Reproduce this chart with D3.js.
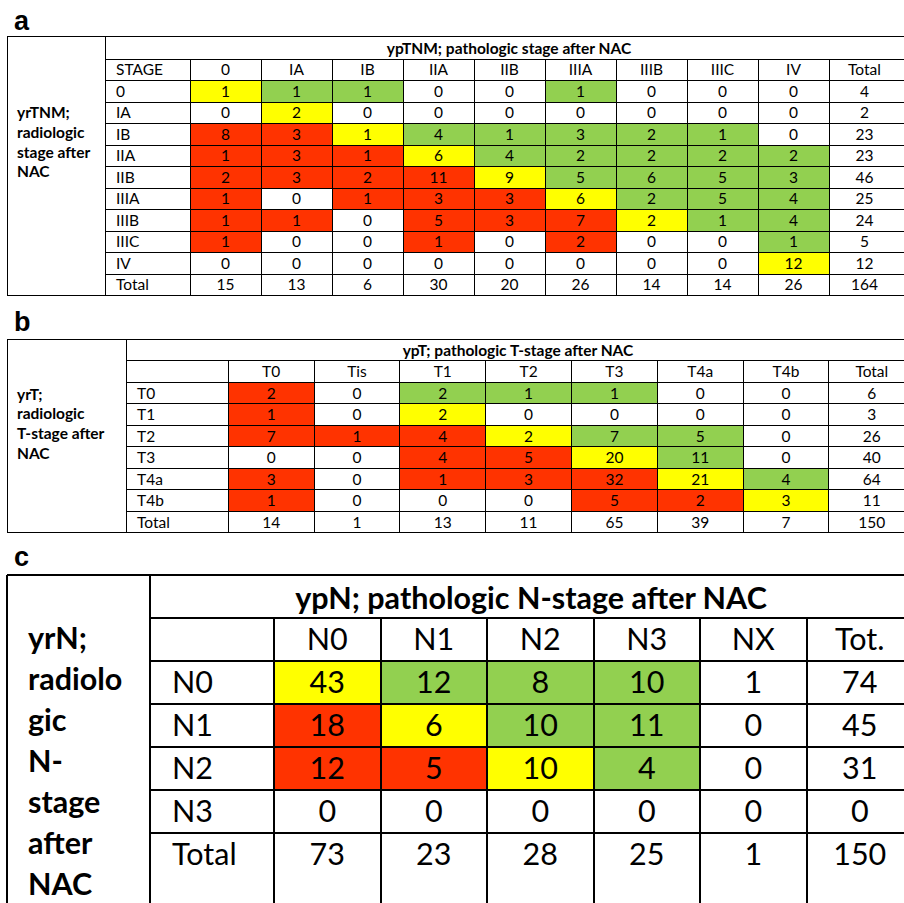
<!DOCTYPE html>
<html>
<head>
<meta charset="utf-8">
<script src="https://cdn.jsdelivr.net/npm/d3@7"></script>
<style>
  body { margin: 0; background: #fff; }
  svg text { font-family: Lato, "Open Sans", sans-serif; fill: #000; }
  svg text.panel { font-family: "Liberation Sans", Arial, sans-serif; font-weight: bold; }
  svg text.bold { font-weight: bold; }
</style>
</head>
<body>
<svg id="chart" width="904" height="903"></svg>
<script>
// codes: c = concordant (yellow), u = understaged (green), o = overstaged (red), . = none

// ---- table a: ypTNM vs yrTNM
var titleA = "ypTNM; pathologic stage after NAC";
var sideA = ["yrTNM;", "radiologic", "stage after", "NAC"];
var cornerA = "STAGE";
var colsA = ["0", "IA", "IB", "IIA", "IIB", "IIIA", "IIIB", "IIIC", "IV", "Total"];
var rowsA = ["0", "IA", "IB", "IIA", "IIB", "IIIA", "IIIB", "IIIC", "IV", "Total"];
var valuesA = [
  [1, 1, 1, 0, 0, 1, 0, 0, 0, 4],
  [0, 2, 0, 0, 0, 0, 0, 0, 0, 2],
  [8, 3, 1, 4, 1, 3, 2, 1, 0, 23],
  [1, 3, 1, 6, 4, 2, 2, 2, 2, 23],
  [2, 3, 2, 11, 9, 5, 6, 5, 3, 46],
  [1, 0, 1, 3, 3, 6, 2, 5, 4, 25],
  [1, 1, 0, 5, 3, 7, 2, 1, 4, 24],
  [1, 0, 0, 1, 0, 2, 0, 0, 1, 5],
  [0, 0, 0, 0, 0, 0, 0, 0, 12, 12],
  [15, 13, 6, 30, 20, 26, 14, 14, 26, 164]
];
var codesA = [
  "cuu..u...",
  ".c.......",
  "oocuuuuu.",
  "ooocuuuuu",
  "oooocuuuu",
  "o.ooocuuu",
  "oo.ooocuu",
  "o..o.o..u",
  "........c",
  "........."
];

// ---- table b: ypT vs yrT
var titleB = "ypT; pathologic T-stage after NAC";
var sideB = ["yrT;", "radiologic", "T-stage after", "NAC"];
var cornerB = "";
var colsB = ["T0", "Tis", "T1", "T2", "T3", "T4a", "T4b", "Total"];
var rowsB = ["T0", "T1", "T2", "T3", "T4a", "T4b", "Total"];
var valuesB = [
  [2, 0, 2, 1, 1, 0, 0, 6],
  [1, 0, 2, 0, 0, 0, 0, 3],
  [7, 1, 4, 2, 7, 5, 0, 26],
  [0, 0, 4, 5, 20, 11, 0, 40],
  [3, 0, 1, 3, 32, 21, 4, 64],
  [1, 0, 0, 0, 5, 2, 3, 11],
  [14, 1, 13, 11, 65, 39, 7, 150]
];
var codesB = [
  "o.uuu..",
  "o.c....",
  "ooocuu.",
  "..oocu.",
  "o.ooocu",
  "o...ooc",
  "......."
];

// ---- table c: ypN vs yrN
var titleC = "ypN; pathologic N-stage after NAC";
var sideC = ["yrN;", "radiolo", "gic", "N-", "stage", "after", "NAC"];
var cornerC = "";
var colsC = ["N0", "N1", "N2", "N3", "NX", "Tot."];
var rowsC = ["N0", "N1", "N2", "N3", "Total"];
var valuesC = [
  [43, 12, 8, 10, 1, 74],
  [18, 6, 10, 11, 0, 45],
  [12, 5, 10, 4, 0, 31],
  [0, 0, 0, 0, 0, 0],
  [73, 23, 28, 25, 1, 150]
];
var codesC = [
  "cuuu.",
  "ocuu.",
  "oocu.",
  ".....",
  "....."
];

var fillFor = {c: "#ffff00", u: "#92d050", o: "#ff3300"};
var rightEdge = 912;

var svg = d3.select("#chart");

function drawTable(t) {
  var g = svg.append("g");
  var n = t.rows.length + 1;
  var headTop = t.top + t.titleH;

  var yScale = d3.scaleBand()
    .domain(d3.range(n))
    .range([headTop, headTop + n * t.rowH]);
  var xScale = d3.scaleBand()
    .domain(t.cols)
    .range([t.dataX, t.dataX + t.cols.length * t.colW]);
  var bottom = t.open ? 915 : yScale.range()[1];

  var cells = [];
  t.values.forEach(function(row, i) {
    row.forEach(function(v, j) {
      cells.push({row: i, col: t.cols[j], value: v, code: (t.codes[i] || "")[j] || "."});
    });
  });

  // coloured cells
  g.selectAll("rect.cell")
    .data(cells.filter(d => fillFor[d.code]))
    .enter().append("rect")
    .attr("class", "cell")
    .attr("x", d => xScale(d.col))
    .attr("y", d => yScale(d.row + 1))
    .attr("width", xScale.bandwidth())
    .attr("height", yScale.bandwidth())
    .attr("fill", d => fillFor[d.code]);

  // grid
  var hl = [];
  hl.push([t.left, t.top]);
  d3.range(n).forEach(i => hl.push([t.sideEnd, yScale(i)]));
  if (!t.open) hl.push([t.left, bottom]);

  g.selectAll("line.h")
    .data(hl).enter().append("line")
    .attr("x1", d => d[0]).attr("x2", rightEdge)
    .attr("y1", d => d[1]).attr("y2", d => d[1]);

  var vl = [[t.left, t.top], [t.sideEnd, t.top], [t.dataX, headTop]];
  t.cols.slice(1).forEach(c => vl.push([xScale(c), headTop]));

  g.selectAll("line.v")
    .data(vl).enter().append("line")
    .attr("x1", d => d[0]).attr("x2", d => d[0])
    .attr("y1", d => d[1]).attr("y2", bottom);

  g.selectAll("line")
    .attr("stroke", "#000")
    .attr("stroke-width", t.stroke)
    .attr("shape-rendering", "crispEdges");

  // numbers
  g.selectAll("text.num")
    .data(cells).enter().append("text")
    .attr("class", "num")
    .attr("x", d => xScale(d.col) + xScale.bandwidth() / 2)
    .attr("y", d => yScale(d.row + 1) + yScale.bandwidth() / 2)
    .attr("dy", "0.36em")
    .attr("text-anchor", "middle")
    .style("font-size", t.fs + "px")
    .text(d => d.value);

  // column headers
  g.selectAll("text.colh")
    .data(t.cols).enter().append("text")
    .attr("x", d => xScale(d) + xScale.bandwidth() / 2)
    .attr("y", yScale(0) + yScale.bandwidth() / 2)
    .attr("dy", "0.36em")
    .attr("text-anchor", "middle")
    .style("font-size", t.fs + "px")
    .text(d => d);

  // row labels (first one is the corner)
  g.selectAll("text.rowh")
    .data([t.corner].concat(t.rows)).enter().append("text")
    .attr("x", t.rowLabelX)
    .attr("y", (d, i) => yScale(i) + yScale.bandwidth() / 2)
    .attr("dy", "0.36em")
    .style("font-size", t.fs + "px")
    .text(d => d);

  g.append("text")
    .attr("class", "bold")
    .attr("x", t.titleCx)
    .attr("y", t.titleY)
    .attr("text-anchor", "middle")
    .style("font-size", t.fs + "px")
    .text(t.title);

  g.selectAll("text.side")
    .data(t.side).enter().append("text")
    .attr("class", "bold")
    .attr("x", t.sideX)
    .attr("y", (d, i) => t.sideY0 + i * t.sideDy)
    .style("font-size", t.fs + "px")
    .text(d => d);

  svg.append("text")
    .attr("class", "panel")
    .attr("x", 14)
    .attr("y", t.panelY)
    .style("font-size", "27px")
    .text(t.panel);
}

drawTable({
  panel: "a", panelY: 30,
  title: titleA, side: sideA, corner: cornerA, cols: colsA, rows: rowsA, values: valuesA, codes: codesA,
  top: 36, titleH: 23, rowH: 21.5, left: 7, sideEnd: 105, dataX: 190, colW: 71,
  rowLabelX: 116, fs: 15.5, titleY: 53.5, titleCx: 509, sideX: 17, sideY0: 118, sideDy: 19.8, stroke: 1
});

drawTable({
  panel: "b", panelY: 331,
  title: titleB, side: sideB, corner: cornerB, cols: colsB, rows: rowsB, values: valuesB, codes: codesB,
  top: 339.5, titleH: 21.3, rowH: 21.5, left: 7, sideEnd: 126.7, dataX: 228.3, colW: 85.8,
  rowLabelX: 137, fs: 15.5, titleY: 355.5, titleCx: 518, sideX: 17, sideY0: 399.5, sideDy: 19.9, stroke: 1
});

drawTable({
  panel: "c", panelY: 566,
  title: titleC, side: sideC, corner: cornerC, cols: colsC, rows: rowsC, values: valuesC, codes: codesC,
  top: 575, titleH: 43, rowH: 43, left: 7, sideEnd: 150, dataX: 274, colW: 106.5,
  rowLabelX: 172, fs: 30.5, titleY: 608.5, titleCx: 531, sideX: 28, sideY0: 649, sideDy: 41, stroke: 2, open: true
});
</script>
</body>
</html>
